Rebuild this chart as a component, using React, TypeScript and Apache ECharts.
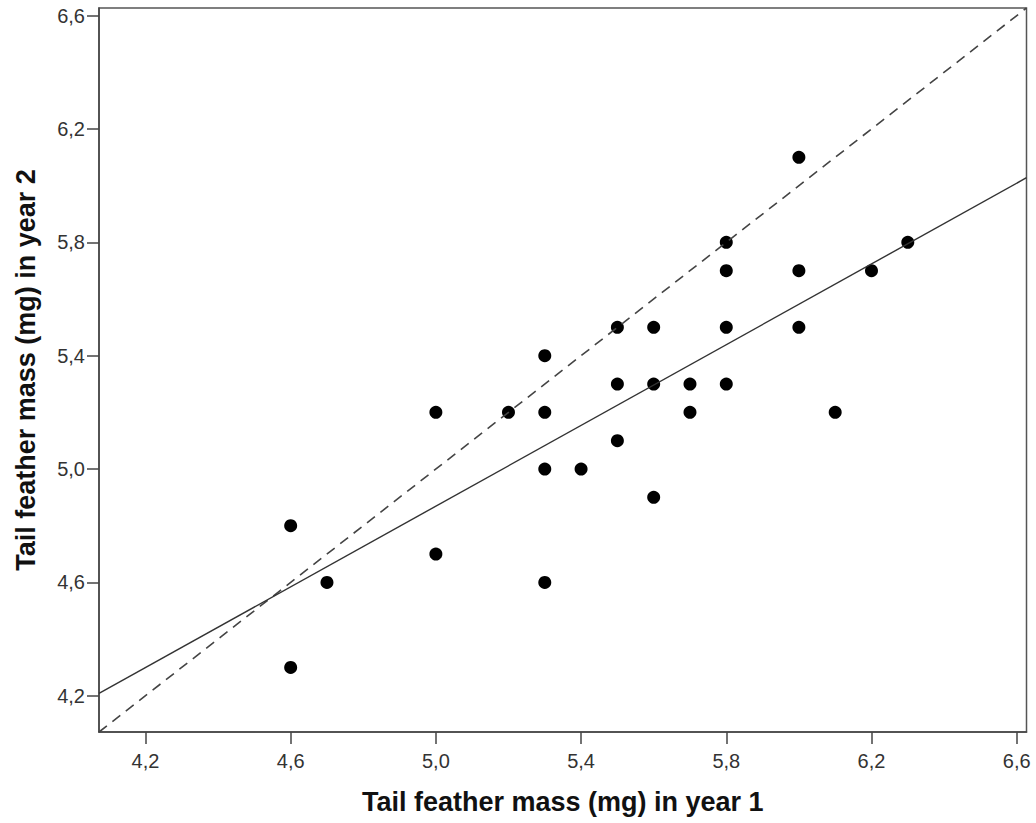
import React, { useEffect, useRef } from "react";
import * as echarts from "echarts";

const axisMin = 4.072;
const axisMax = 6.627;
const tickValues = [4.2, 4.6, 5.0, 5.4, 5.8, 6.2, 6.6];

const xTitle = "Tail feather mass (mg) in year 1";
const yTitle = "Tail feather mass (mg) in year 2";

const year1 = [4.6, 4.6, 4.7, 5.0, 5.0, 5.2, 5.3, 5.3, 5.3, 5.3, 5.4, 5.5, 5.5, 5.5, 5.6, 5.6, 5.6, 5.7, 5.7, 5.8, 5.8, 5.8, 5.8, 6.0, 6.0, 6.0, 6.1, 6.2, 6.3];
const year2 = [4.8, 4.3, 4.6, 5.2, 4.7, 5.2, 5.4, 5.2, 5.0, 4.6, 5.0, 5.5, 5.3, 5.1, 5.5, 5.3, 4.9, 5.3, 5.2, 5.8, 5.7, 5.5, 5.3, 6.1, 5.7, 5.5, 5.2, 5.7, 5.8];

// fitted regression line (read at the plot edges)
const fitLine = [
  [4.072, 4.208],
  [6.627, 6.028],
];
// identity line y = x
const identityLine = [
  [4.072, 4.072],
  [6.627, 6.627],
];

const fmt = (v: number) => v.toFixed(1).replace(".", ",");

export default function App() {
  const ref = useRef<HTMLDivElement>(null);
  useEffect(() => {
    if (!ref.current) return;
    const chart = echarts.init(ref.current, null, { renderer: "svg" });
    const axisCommon = {
      type: "value" as const,
      min: axisMin,
      max: axisMax,
      splitLine: { show: false },
      axisLine: { show: true, lineStyle: { color: "#444", width: 1.5 } },
      axisTick: {
        show: true,
        length: 12,
        lineStyle: { color: "#444", width: 1.5 },
        customValues: tickValues,
      },
      nameLocation: "middle" as const,
      nameTextStyle: {
        fontFamily: "Liberation Sans, Arial, sans-serif",
        fontWeight: "bold" as const,
        fontSize: 27,
        color: "#111",
      },
    };
    chart.setOption({
      animation: false,
      backgroundColor: "#fff",
      grid: {
        left: 99,
        top: 8,
        right: 9.5,
        bottom: 91,
        show: true,
        borderColor: "#555",
        borderWidth: 1.5,
        backgroundColor: "transparent",
      },
      xAxis: {
        ...axisCommon,
        name: xTitle,
        nameGap: 56,
        axisLabel: {
          customValues: tickValues,
          formatter: (v: number) => fmt(v),
          fontFamily: "Liberation Sans, Arial, sans-serif",
          fontSize: 20,
          color: "#333",
          margin: 19,
        },
      },
      yAxis: {
        ...axisCommon,
        name: yTitle,
        nameGap: 60,
        axisLabel: {
          customValues: tickValues,
          formatter: (v: number) => fmt(v),
          fontFamily: "Liberation Sans, Arial, sans-serif",
          fontSize: 20,
          color: "#333",
          margin: 14,
        },
      },
      series: [
        {
          type: "line",
          data: identityLine,
          symbol: "none",
          lineStyle: { color: "#444", width: 1.6, type: [10, 7] },
          silent: true,
        },
        {
          type: "line",
          data: fitLine,
          symbol: "none",
          lineStyle: { color: "#333", width: 1.4 },
          silent: true,
        },
        {
          type: "scatter",
          data: year1.map((x, i) => [x, year2[i]]),
          symbolSize: 13,
          itemStyle: { color: "#000", opacity: 1 },
        },
      ],
    });
    return () => chart.dispose();
  }, []);
  return (
    <div
      ref={ref}
      style={{ position: "fixed", left: 0, top: 0, width: 1036, height: 823 }}
    />
  );
}
